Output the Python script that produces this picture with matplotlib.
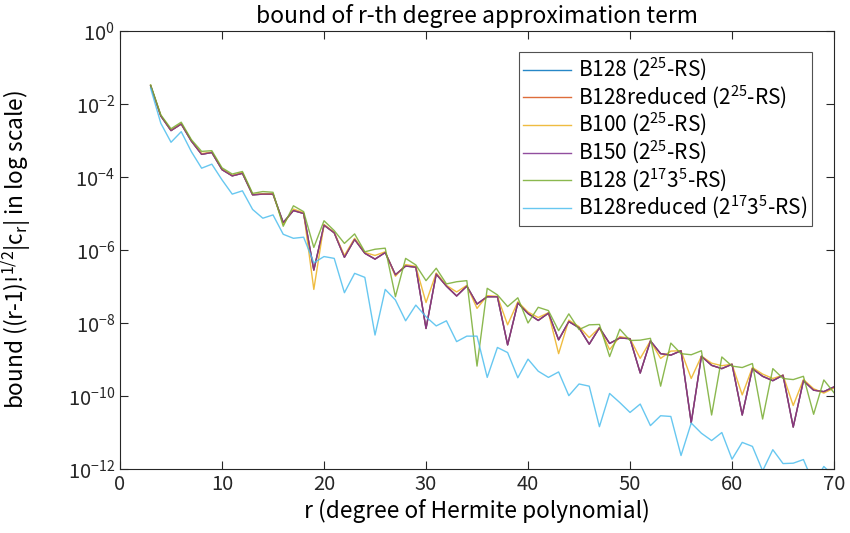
import numpy as np
import matplotlib
matplotlib.use('Agg')
import matplotlib.pyplot as plt

# degrees r = 3..70, values are log10 of the bound
r = list(range(3, 71))

# B150 (2^25-RS)
b150_25 = [-1.50, -2.33, -2.73, -2.55, -3.02, -3.38, -3.33, -3.80, -3.97, -3.90,
           -4.49, -4.47, -4.47, -5.25, -4.92, -5.00, -6.55, -5.32, -5.53, -6.20,
           -5.71, -6.09, -6.25, -6.07, -6.68, -6.44, -6.47, -8.15, -6.66, -6.99,
           -7.26, -6.99, -7.48, -7.28, -7.28, -8.60, -7.45, -7.74, -7.93, -7.73,
           -8.46, -7.96, -8.13, -8.58, -8.13, -8.56, -8.41, -8.43, -9.37, -8.49,
           -8.84, -8.88, -8.76, -10.73, -8.91, -9.16, -9.25, -9.13, -10.52, -9.25,
           -9.46, -9.58, -9.43, -10.85, -9.58, -9.84, -9.88, -9.75]

# B128 / B128reduced (2^25-RS) sit right under the B150 line, not visible apart
b128_25 = list(b150_25)
b128red_25 = list(b150_25)

# B100 (2^25-RS)
b100_25 = [-1.49, -2.32, -2.72, -2.54, -3.01, -3.36, -3.32, -3.78, -3.96, -3.88,
           -4.48, -4.46, -4.46, -5.30, -4.88, -4.98, -7.08, -5.30, -5.52, -6.15,
           -5.68, -6.07, -6.15, -6.05, -6.72, -6.40, -6.45, -7.44, -6.63, -6.97,
           -7.15, -6.97, -7.60, -7.25, -7.27, -8.05, -7.42, -7.70, -7.85, -7.72,
           -8.84, -7.92, -8.10, -8.40, -8.13, -8.73, -8.37, -8.43, -8.97, -8.49,
           -8.97, -8.77, -8.76, -9.52, -8.91, -9.10, -9.17, -9.13, -9.97, -9.22,
           -9.40, -9.52, -9.43, -10.26, -9.55, -9.80, -9.92, -9.78]

# B128 (2^17 3^5-RS)
b128_173 = [-1.48, -2.30, -2.68, -2.50, -2.98, -3.30, -3.28, -3.75, -3.92, -3.85,
            -4.45, -4.40, -4.42, -5.35, -4.79, -4.95, -5.93, -5.20, -5.47, -5.82,
            -5.56, -6.05, -5.98, -5.95, -7.28, -6.23, -6.41, -6.84, -6.50, -6.93,
            -6.87, -6.84, -9.18, -7.05, -7.23, -7.55, -7.31, -8.00, -7.57, -7.66,
            -8.21, -7.75, -8.18, -8.05, -8.04, -8.92, -8.17, -8.48, -8.47, -8.42,
            -9.73, -8.55, -8.84, -8.87, -8.76, -10.52, -8.93, -9.18, -9.22, -9.11,
            -10.63, -9.25, -9.52, -9.55, -9.46, -10.50, -9.56, -9.91]

# B128reduced (2^17 3^5-RS)
b128red_173 = [-1.57, -2.53, -3.05, -2.76, -3.31, -3.76, -3.65, -4.08, -4.47, -4.38,
               -4.89, -5.13, -5.04, -5.57, -5.68, -5.65, -6.35, -6.18, -6.23, -7.17,
               -6.64, -6.75, -8.33, -7.08, -7.37, -7.94, -7.51, -7.83, -8.08, -7.94,
               -8.51, -8.36, -8.36, -9.49, -8.67, -8.81, -9.50, -8.99, -9.32, -9.49,
               -9.34, -9.99, -9.67, -9.73, -10.84, -9.93, -10.18, -10.45, -10.22, -10.81,
               -10.54, -10.56, -11.63, -10.74, -11.02, -11.22, -11.00, -11.73, -11.27, -11.38,
               -12.05, -11.47, -11.85, -11.84, -11.74, -12.40, -11.93, -12.20]

labels = ['B128 ($2^{25}$-RS)',
          'B128reduced ($2^{25}$-RS)',
          'B100 ($2^{25}$-RS)',
          'B150 ($2^{25}$-RS)',
          'B128 ($2^{17}3^5$-RS)',
          'B128reduced ($2^{17}3^5$-RS)']
series = [b128_25, b128red_25, b100_25, b150_25, b128_173, b128red_173]
# matlab default line colors
colors = ['#0072BD', '#D95319', '#EDB120', '#7E2F8E', '#77AC30', '#4DBEEE']

plt.rcParams['font.family'] = ['Noto Sans CJK JP', 'DejaVu Sans']
plt.rcParams['mathtext.default'] = 'regular'

fig = plt.figure(figsize=(8.5, 5.33), dpi=100)
ax = fig.add_axes([0.1412, 0.120, 0.840, 0.822])

for vals, lab, col in zip(series, labels, colors):
    ax.semilogy(r, 10.0 ** np.array(vals), color=col, lw=1.0, label=lab, alpha=0.85)

ax.set_xlim(0, 70)
ax.set_ylim(1e-12, 1)
ax.set_xticks(range(0, 71, 10))
ax.set_yticks([10.0 ** k for k in range(-12, 1, 2)])
ax.minorticks_off()
ax.tick_params(direction='in', top=True, right=True, labelsize=14.5,
               length=6, width=0.8, colors='#262626')
for s in ax.spines.values():
    s.set_color('#262626')
    s.set_linewidth(0.8)

ax.set_title('bound of r-th degree approximation term', fontsize=16.5, pad=6)
ax.set_xlabel('r (degree of Hermite polynomial)', fontsize=16.3, labelpad=3)
ax.set_ylabel('bound ((r-1)!$^{1/2}$|c$_r$| in log scale)', fontsize=16.3)
ax.yaxis.set_label_coords(-0.122, 0.5)

leg = ax.legend(loc='upper right', fontsize=15, frameon=True, fancybox=False,
                borderpad=0.2, borderaxespad=0, labelspacing=0.03,
                handlelength=2.3, handletextpad=0.35,
                bbox_to_anchor=(0.969, 0.952))
leg.get_frame().set_edgecolor('#262626')
leg.get_frame().set_linewidth(0.8)

fig.savefig('out.png', dpi=100)
